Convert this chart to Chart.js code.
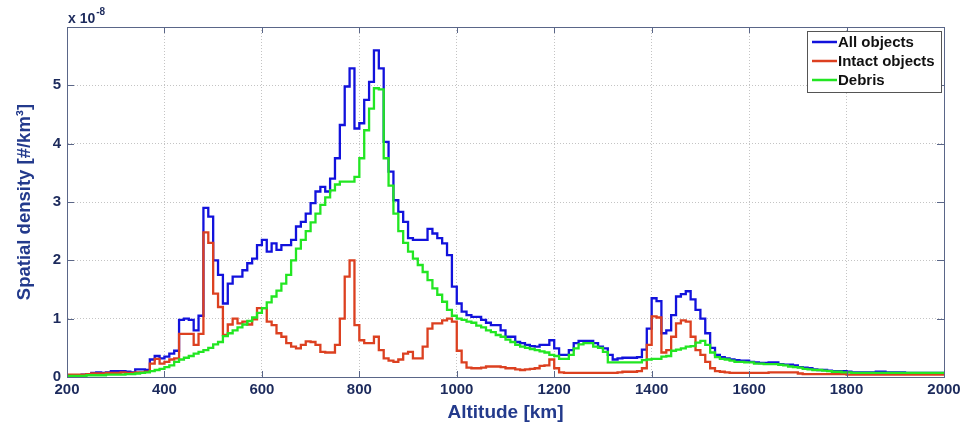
<!DOCTYPE html>
<html><head><meta charset="utf-8">
<script src="https://cdn.jsdelivr.net/npm/chart.js@4.4.0/dist/chart.umd.min.js"></script>
<style>html,body{margin:0;padding:0;background:#fff;}#wrap{width:961px;height:427px;}</style>
</head><body><div id="wrap"><canvas id="c" width="961" height="427"></canvas></div>
<script>
// Altitude bin starts [km]
const altitudeKm = [
200,210,220,230,240,250,260,270,280,290,
300,310,320,330,340,350,360,370,380,390,
400,410,420,430,440,450,460,470,480,490,
500,510,520,530,540,550,560,570,580,590,
600,610,620,630,640,650,660,670,680,690,
700,710,720,730,740,750,760,770,780,790,
800,810,820,830,840,850,860,870,880,890,
900,910,920,930,940,950,960,970,980,990,
1000,1010,1020,1030,1040,1050,1060,1070,1080,1090,
1100,1110,1120,1130,1140,1150,1160,1170,1180,1190,
1200,1210,1220,1230,1240,1250,1260,1270,1280,1290,
1300,1310,1320,1330,1340,1350,1360,1370,1380,1390,
1400,1410,1420,1430,1440,1450,1460,1470,1480,1490,
1500,1510,1520,1530,1540,1550,1560,1570,1580,1590,
1600,1610,1620,1630,1640,1650,1660,1670,1680,1690,
1700,1710,1720,1730,1740,1750,1760,1770,1780,1790,
1800,1810,1820,1830,1840,1850,1860,1870,1880,1890,
1900,1910,1920,1930,1940,1950,1960,1970,1980,1990,
2000];

// Spatial density, units of 1e-8 #/km^3
const allObjects = [
0.03,0.03,0.03,0.04,0.05,0.07,0.08,0.07,0.08,0.10,
0.10,0.10,0.09,0.08,0.13,0.13,0.12,0.30,0.36,0.32,
0.35,0.40,0.45,0.98,1.00,0.98,0.80,1.05,2.90,2.75,
2.00,1.75,1.26,1.60,1.72,1.72,1.83,1.95,2.03,2.26,
2.35,2.15,2.29,2.18,2.26,2.26,2.35,2.58,2.66,2.80,
2.98,3.18,3.26,3.18,3.40,3.75,4.32,4.98,5.29,4.26,
4.35,4.75,5.06,5.60,5.29,4.03,3.52,3.03,2.83,2.66,
2.38,2.35,2.35,2.35,2.54,2.46,2.38,2.29,2.09,1.55,
1.26,1.12,1.06,1.03,1.03,0.98,0.93,0.89,0.89,0.80,
0.69,0.69,0.60,0.58,0.55,0.53,0.52,0.55,0.55,0.63,
0.49,0.38,0.38,0.46,0.58,0.62,0.62,0.62,0.58,0.52,
0.49,0.38,0.30,0.32,0.33,0.33,0.33,0.34,0.47,0.83,
1.35,1.30,0.75,0.80,1.06,1.38,1.42,1.47,1.33,1.15,
1.00,0.75,0.50,0.38,0.34,0.32,0.30,0.29,0.28,0.28,
0.26,0.25,0.24,0.24,0.25,0.25,0.22,0.21,0.21,0.20,
0.17,0.16,0.15,0.13,0.12,0.12,0.11,0.10,0.10,0.10,
0.09,0.08,0.08,0.08,0.08,0.08,0.09,0.09,0.08,0.08,
0.08,0.08,0.07,0.07,0.07,0.07,0.07,0.07,0.07,0.07,
0.07];

const intactObjects = [
0.04,0.04,0.04,0.04,0.05,0.06,0.06,0.06,0.07,0.07,
0.07,0.08,0.07,0.07,0.08,0.08,0.09,0.23,0.31,0.23,
0.26,0.30,0.32,0.74,0.74,0.74,0.55,0.74,2.48,2.30,
1.43,1.20,0.72,0.90,1.00,0.92,0.95,0.90,0.99,1.18,
1.18,0.95,0.89,0.75,0.69,0.58,0.52,0.49,0.55,0.61,
0.60,0.55,0.43,0.42,0.42,0.55,1.00,1.72,2.00,0.89,
0.63,0.58,0.58,0.69,0.46,0.32,0.28,0.26,0.30,0.40,
0.43,0.32,0.32,0.52,0.83,0.92,0.92,0.97,1.00,0.95,
0.45,0.25,0.16,0.15,0.15,0.16,0.18,0.18,0.18,0.17,
0.15,0.15,0.13,0.12,0.13,0.14,0.15,0.19,0.20,0.30,
0.15,0.08,0.07,0.07,0.07,0.07,0.07,0.07,0.07,0.07,
0.07,0.07,0.07,0.08,0.09,0.09,0.09,0.10,0.15,0.55,
1.04,1.02,0.42,0.46,0.69,0.92,0.97,0.95,0.69,0.46,
0.38,0.26,0.15,0.10,0.09,0.08,0.07,0.07,0.07,0.07,
0.07,0.07,0.07,0.07,0.08,0.08,0.08,0.08,0.08,0.08,
0.06,0.05,0.05,0.05,0.05,0.05,0.05,0.05,0.05,0.05,
0.04,0.04,0.04,0.04,0.04,0.04,0.04,0.04,0.04,0.04,
0.04,0.04,0.04,0.04,0.04,0.04,0.04,0.04,0.04,0.04,
0.04];

const debris = [
0.02,0.02,0.02,0.02,0.03,0.03,0.03,0.03,0.04,0.04,
0.04,0.04,0.05,0.05,0.06,0.07,0.08,0.10,0.12,0.14,
0.17,0.20,0.26,0.30,0.33,0.36,0.40,0.43,0.46,0.50,
0.56,0.60,0.70,0.75,0.80,0.85,0.90,0.96,1.02,1.10,
1.18,1.28,1.38,1.48,1.60,1.75,2.00,2.20,2.35,2.50,
2.65,2.80,2.95,3.08,3.20,3.30,3.35,3.35,3.35,3.43,
3.75,4.23,4.60,4.95,4.93,3.75,3.28,2.80,2.50,2.30,
2.15,2.03,1.92,1.80,1.66,1.52,1.41,1.29,1.15,1.05,
1.00,0.98,0.95,0.93,0.88,0.85,0.80,0.77,0.72,0.69,
0.64,0.60,0.55,0.52,0.50,0.48,0.46,0.44,0.42,0.38,
0.36,0.31,0.31,0.38,0.49,0.56,0.58,0.58,0.52,0.50,
0.43,0.25,0.25,0.25,0.25,0.25,0.25,0.25,0.29,0.30,
0.31,0.31,0.35,0.36,0.45,0.47,0.49,0.52,0.53,0.59,
0.62,0.55,0.42,0.34,0.31,0.30,0.28,0.26,0.26,0.25,
0.25,0.23,0.23,0.22,0.22,0.22,0.21,0.20,0.18,0.17,
0.16,0.14,0.13,0.12,0.12,0.11,0.10,0.09,0.09,0.08,
0.08,0.07,0.07,0.07,0.07,0.07,0.07,0.07,0.07,0.07,
0.07,0.07,0.07,0.07,0.07,0.07,0.07,0.07,0.07,0.07,
0.07];

const xTicks = [200,400,600,800,1000,1200,1400,1600,1800,2000];
const yTicks = [0,1,2,3,4,5];
const seriesNames = ['All objects','Intact objects','Debris'];
const seriesColors = ['#1212dc','#dc4020','#22e622'];

const FONT = '"Liberation Sans", Arial, Helvetica, sans-serif';
const AXIS_COLOR = '#5a6688';
const TICK_TEXT = '#1c2a5c';
const TITLE_TEXT = '#233a8c';

function toPoints(vals){ return altitudeKm.map((a,i)=>({x:a,y:vals[i]})); }

const framePlugin = {
  id:'matlabFrame',
  afterDraw(chart){
    const ctx = chart.ctx, ca = chart.chartArea;
    const xs = chart.scales.x, ys = chart.scales.y;
    ctx.save();
    ctx.strokeStyle = AXIS_COLOR; ctx.lineWidth = 1;
    ctx.strokeRect(Math.round(ca.left)+0.5, Math.round(ca.top)+0.5, Math.round(ca.right-ca.left), Math.round(ca.bottom-ca.top));
    ctx.beginPath();
    xTicks.forEach(v=>{
      const px = Math.round(xs.getPixelForValue(v))+0.5;
      ctx.moveTo(px, ca.bottom); ctx.lineTo(px, ca.bottom-6);
      ctx.moveTo(px, ca.top); ctx.lineTo(px, ca.top+6);
    });
    yTicks.forEach(v=>{
      const py = Math.round(ys.getPixelForValue(v))+0.5;
      ctx.moveTo(ca.left, py); ctx.lineTo(ca.left+7, py);
      ctx.moveTo(ca.right, py); ctx.lineTo(ca.right-7, py);
    });
    ctx.stroke();

    // exponent label
    ctx.fillStyle = TICK_TEXT;
    ctx.font = 'bold 14px ' + FONT;
    ctx.textBaseline = 'alphabetic'; ctx.textAlign = 'left';
    const base = 'x 10';
    ctx.fillText(base, ca.left+1, ca.top-4);
    const w = ctx.measureText(base).width;
    ctx.font = 'bold 10px ' + FONT;
    ctx.fillText('-8', ca.left+1+w+1, ca.top-12);

    // legend box
    const bw = 134, bh = 61;
    const bx = Math.round(ca.right - 3 - bw), by = Math.round(ca.top + 4);
    ctx.fillStyle = '#ffffff';
    ctx.fillRect(bx, by, bw, bh);
    ctx.strokeStyle = '#555555'; ctx.lineWidth = 1;
    ctx.strokeRect(bx+0.5, by+0.5, bw, bh);
    ctx.font = 'bold 15px ' + FONT;
    ctx.textBaseline = 'middle';
    chart.data.datasets.forEach((ds,i)=>{
      const ry = by + 11 + i*19;
      ctx.strokeStyle = ds.borderColor; ctx.lineWidth = 2.5;
      ctx.beginPath(); ctx.moveTo(bx+5, ry); ctx.lineTo(bx+30, ry); ctx.stroke();
      ctx.fillStyle = '#111111';
      ctx.fillText(ds.label, bx+31, ry+1);
    });
    ctx.restore();
  }
};

new Chart(document.getElementById('c'), {
  type:'line',
  data:{
    datasets:[
      {label:seriesNames[0], data:toPoints(allObjects), borderColor:seriesColors[0], order:3},
      {label:seriesNames[1], data:toPoints(intactObjects), borderColor:seriesColors[1], order:2},
      {label:seriesNames[2], data:toPoints(debris), borderColor:seriesColors[2], order:1}
    ].map(d=>Object.assign(d,{stepped:'before', borderWidth:2.3, pointRadius:0, fill:false, tension:0, backgroundColor:d.borderColor}))
  },
  options:{
    responsive:false, animation:false, devicePixelRatio:1,
    layout:{padding:{top:27,right:17,left:0,bottom:0}},
    plugins:{legend:{display:false}, tooltip:{enabled:false}},
    scales:{
      x:{
        type:'linear', min:200, max:2000,
        afterBuildTicks:(s)=>{ s.ticks = xTicks.map(v=>({value:v})); },
        afterFit:(s)=>{ s.height = 50; s.paddingRight = 0; s.paddingLeft = 0; },
        ticks:{font:{family:FONT, size:15, weight:'bold'}, color:TICK_TEXT, padding:4, maxRotation:0, autoSkip:false, callback:(v)=>String(v)},
        grid:{drawTicks:false, lineWidth:1, color:(c)=> (c.tick && (c.tick.value===200||c.tick.value===2000)) ? 'rgba(0,0,0,0)' : '#c4c4c4'},
        border:{display:true, color:AXIS_COLOR, width:1, dash:[1,2]},
        title:{display:true, text:'Altitude [km]', font:{family:FONT, size:19, weight:'bold'}, color:TITLE_TEXT, padding:{top:0,bottom:3}}
      },
      y:{
        type:'linear', min:0, max:6,
        afterBuildTicks:(s)=>{ s.ticks = yTicks.map(v=>({value:v})); },
        afterFit:(s)=>{ s.width = 67; s.paddingTop = 0; s.paddingBottom = 0; },
        ticks:{font:{family:FONT, size:15, weight:'bold'}, color:TICK_TEXT, padding:6, callback:(v)=>String(v)},
        grid:{drawTicks:false, lineWidth:1, color:(c)=> (c.tick && c.tick.value===0) ? 'rgba(0,0,0,0)' : '#c4c4c4'},
        border:{display:true, color:AXIS_COLOR, width:1, dash:[1,2]},
        title:{display:true, text:'Spatial density [#/km³]', font:{family:FONT, size:18.5, weight:'bold'}, color:TITLE_TEXT, padding:{top:14,bottom:0}}
      }
    }
  },
  plugins:[framePlugin]
});
</script>
</body></html>
